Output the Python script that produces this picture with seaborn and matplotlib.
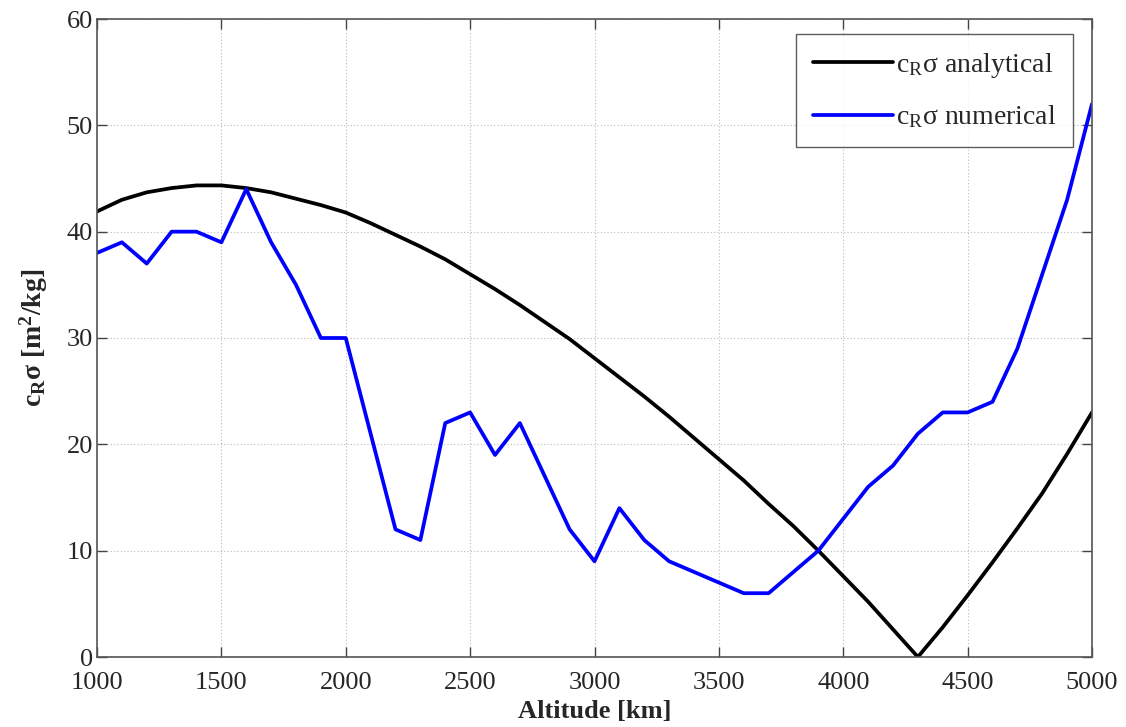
import numpy as np
import pandas as pd
import matplotlib
matplotlib.use("Agg")
import matplotlib.pyplot as plt
import seaborn as sns

# Altitude grid [km]
altitude = list(range(1000, 5001, 100))

# c_R * sigma, analytical model [m^2/kg]
analytical = [41.9, 43.0, 43.7, 44.1, 44.35, 44.35, 44.1, 43.7, 43.1, 42.5,
              41.8, 40.8, 39.7, 38.6, 37.4, 36.0, 34.6, 33.1, 31.5, 29.9,
              28.1, 26.3, 24.5, 22.6, 20.6, 18.6, 16.6, 14.4, 12.3, 10.0,
              7.6, 5.2, 2.6, 0.0, 2.8, 5.8, 8.9, 12.1, 15.4, 19.1, 23.0]

# c_R * sigma, numerical estimate [m^2/kg]
numerical = [38, 39, 37, 40, 40, 39, 44, 39, 35, 30,
             30, 21, 12, 11, 22, 23, 19, 22, 17, 12,
             9, 14, 11, 9, 8, 7, 6, 6, 8, 10,
             13, 16, 18, 21, 23, 23, 24, 29, 36, 43, 52]

series_names = [r"c$_\mathregular{R}$σ analytical", r"c$_\mathregular{R}$σ numerical"]
series_colors = ["#000000", "#0000ff"]

x_ticks = [1000, 1500, 2000, 2500, 3000, 3500, 4000, 4500, 5000]
y_ticks = [0, 10, 20, 30, 40, 50, 60]

df = pd.DataFrame({
    "Altitude": altitude * 2,
    "value": analytical + numerical,
    "series": [series_names[0]] * len(altitude) + [series_names[1]] * len(altitude),
})

sns.set_style("ticks")
plt.rcParams["font.family"] = ["Liberation Serif", "DejaVu Serif"]
plt.rcParams["mathtext.fontset"] = "custom"
plt.rcParams["mathtext.rm"] = "Liberation Serif"
plt.rcParams["mathtext.it"] = "Liberation Serif:italic"
plt.rcParams["mathtext.bf"] = "Liberation Serif:bold"

fig = plt.figure(figsize=(11.26, 7.27), dpi=100)
ax = fig.add_axes([97 / 1126, 1 - 657 / 727, (1092 - 97) / 1126, (657 - 19) / 727])

sns.lineplot(data=df, x="Altitude", y="value", hue="series",
             palette=dict(zip(series_names, series_colors)),
             linewidth=2.7, ax=ax, legend=True)

ax.set_xlim(1000, 5000)
ax.set_ylim(0, 60)
ax.set_xticks(x_ticks)
ax.set_yticks(y_ticks)
ax.tick_params(direction="in", top=True, right=True, labelsize=19,
               length=7, width=1, color="#444444")
ax.tick_params(axis="x", pad=11)
ax.tick_params(axis="y", pad=3)
for s in ax.spines.values():
    s.set_visible(True)
    s.set_color("#555555")
    s.set_linewidth(1.2)

ax.grid(True, linestyle=(0, (1, 2)), color="#bbbbbb", linewidth=0.8)
ax.set_axisbelow(True)

ax.set_xlabel("Altitude [km]", fontsize=19, fontweight="bold", labelpad=4)
ax.set_ylabel(r"c$_\mathbf{R}$σ [m$^\mathbf{2}$/kg]", fontsize=20, fontweight="bold", labelpad=12)

leg = ax.legend(loc="upper right", bbox_to_anchor=(0.981, 0.976), fontsize=20,
                frameon=True, fancybox=False, edgecolor="#333333",
                handlelength=2.9, borderpad=0.6, labelspacing=0.85, handletextpad=0.1,
                borderaxespad=0)
leg.get_frame().set_linewidth(1.0)
leg.set_title(None)

fig.savefig("out.png", dpi=100, facecolor="white")
